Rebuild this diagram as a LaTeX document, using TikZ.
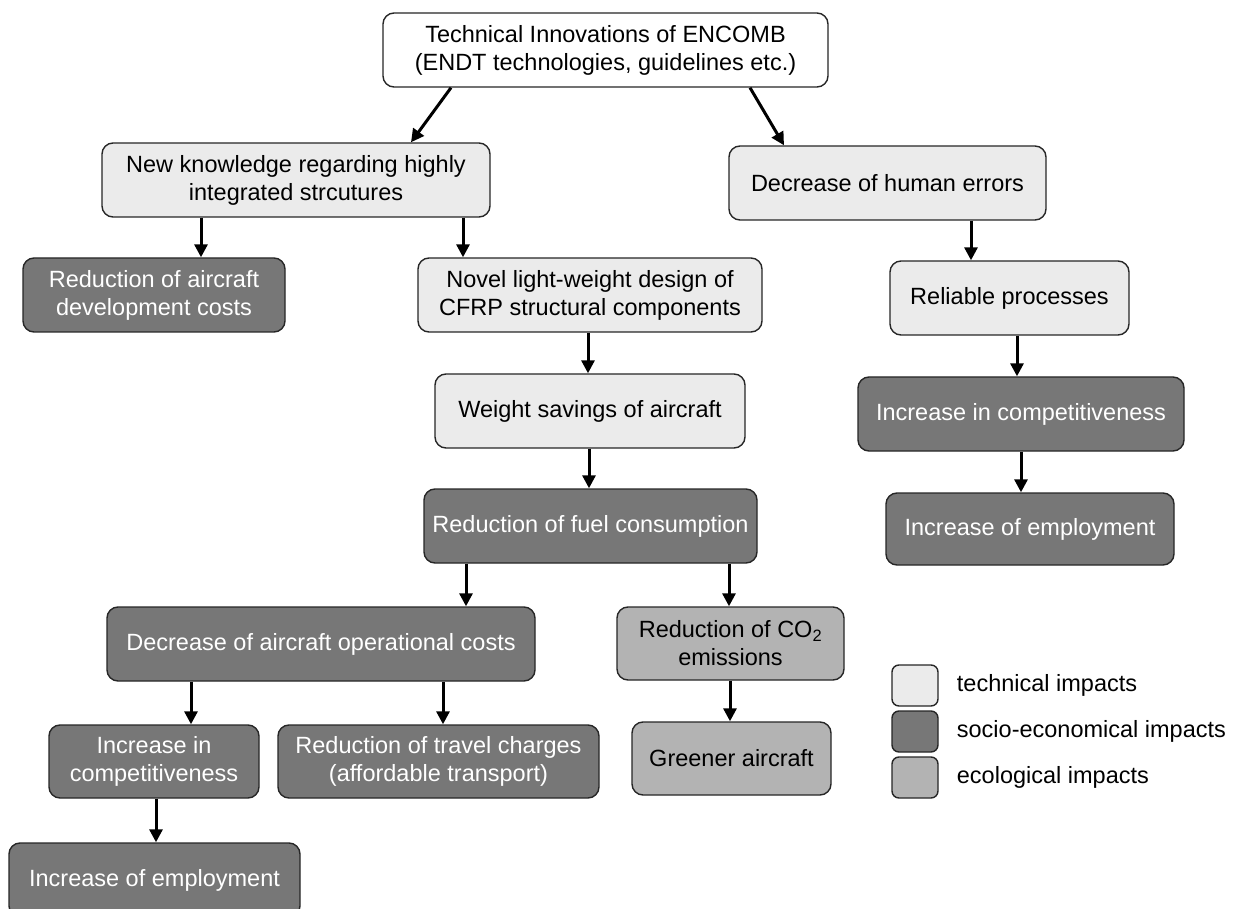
\documentclass[tikz,border=0pt]{standalone}
\usepackage{fontspec}
\setmainfont{Liberation Sans}
\usepackage{tikz}
\usetikzlibrary{arrows.meta,positioning}
\definecolor{techgray}{HTML}{EBEBEB}
\definecolor{sociogray}{HTML}{777777}
\definecolor{ecogray}{HTML}{B3B3B3}

\begin{document}
\begin{tikzpicture}
  [x=1pt,y=-1pt,
   every node/.style={font=\fontsize{23.5}{28}\selectfont,align=center,inner sep=0pt},
   box/.style={draw=black!85,line width=1.4pt,rounded corners=11pt,minimum height=74pt},
   plain/.style={box,fill=white},
   tech/.style={box,fill=techgray},
   socio/.style={box,fill=sociogray,text=white},
   eco/.style={box,fill=ecogray},
   legendbox/.style={rounded corners=7pt,minimum width=46pt,minimum height=41pt},
   arr/.style={line width=3pt,-{Triangle[length=13pt,width=13pt]}}]
  \useasboundingbox (0,0) rectangle (1235,909);
  \clip (0,0) rectangle (1235,909);

  \node[plain,minimum width=445pt] (top) at (605.5,50) {Technical Innovations of ENCOMB\\(ENDT technologies, guidelines etc.)};
  \node[tech,minimum width=388pt] (know) at (296,180) {New knowledge regarding highly\\integrated strcutures};
  \node[tech,minimum width=317pt] (human) at (887.5,183) {Decrease of human errors};
  \node[socio,minimum width=262pt] (devcost) at (154,295) {Reduction of aircraft\\development costs};
  \node[tech,minimum width=344pt] (light) at (590,295) {Novel light-weight design of\\CFRP structural components};
  \node[tech,minimum width=239pt] (reliable) at (1009.5,298) {Reliable processes};
  \node[tech,minimum width=310pt] (weight) at (590,411) {Weight savings of aircraft};
  \node[socio,minimum width=326pt] (compR) at (1021,414) {Increase in competitiveness};
  \node[socio,minimum width=333pt] (fuel) at (590.5,526) {Reduction of fuel consumption};
  \node[socio,minimum width=288pt,minimum height=72pt] (emplR) at (1030,529) {Increase of employment};
  \node[socio,minimum width=428pt] (opcost) at (321,644) {Decrease of aircraft operational costs};
  \node[eco,minimum width=227pt,minimum height=73pt] (co2) at (730.5,643.5) {Reduction of CO\textsubscript{2}\\emissions};
  \node[socio,minimum width=210pt,minimum height=73pt] (compL) at (154,761.5) {Increase in\\competitiveness};
  \node[socio,minimum width=321pt,minimum height=73pt] (travel) at (438.5,761.5) {Reduction of travel charges\\(affordable transport)};
  \node[eco,minimum width=199pt,minimum height=73pt] (green) at (731.5,758.5) {Greener aircraft};
  \node[socio,minimum width=291pt] (emplL) at (154.5,880) {Increase of employment};

  % legend
  \node[tech,legendbox] (lt) at (915,685.5) {};
  \node[socio,legendbox] (ls) at (915,731.5) {};
  \node[eco,legendbox] (le) at (915,777.5) {};
  \node[right=18pt of lt] (ltx) {technical impacts};
  \node[right=18pt of ls] (lsx) {socio-economical impacts};
  \node[right=18pt of le] (lex) {ecological impacts};

  \draw[arr] (top.south -| 451,0) -- (know.north -| 411,0);
  \draw[arr] (top.south -| 750,0) -- (human.north -| 784,0);
  \foreach \from/\to/\x in {know/devcost/201,know/light/463,light/weight/588,weight/fuel/589,
      fuel/opcost/466,fuel/co2/729,opcost/compL/191,opcost/travel/443,co2/green/730,
      compL/emplL/156,human/reliable/971,reliable/compR/1017,compR/emplR/1021}
    \draw[arr] (\from.south -| \x,0) -- (\to.north -| \x,0);
\end{tikzpicture}
\end{document}
